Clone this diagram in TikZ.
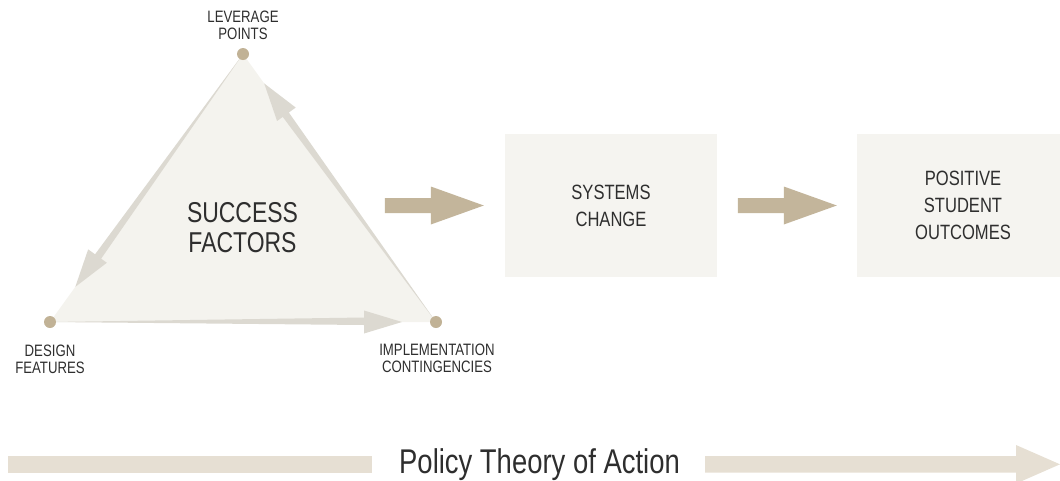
\documentclass[tikz,border=0pt]{standalone}
\usepackage{fontspec}
\setmainfont{Liberation Sans}[FakeStretch=0.8]
\usetikzlibrary{calc}

\definecolor{panel}{HTML}{F5F4F0}
\definecolor{trifill}{HTML}{F4F3EE}
\definecolor{edgegrey}{HTML}{DCD9D1}
\definecolor{tanarrow}{HTML}{C3B59B}
\definecolor{dotc}{HTML}{C1B296}
\definecolor{band}{HTML}{E6DFD3}
\definecolor{ink}{HTML}{2E2E2E}

\tikzset{
  vertexdot/.style={circle,fill=dotc,minimum size=12pt,inner sep=0pt},
  cornerlabel/.style={anchor=north,inner sep=0pt,align=center,text=ink,
    font=\fontsize{16.5}{17}\selectfont},
  stagebox/.style={fill=panel,minimum width=212pt,minimum height=143pt,
    inner sep=0pt,align=center,text=ink,font=\fontsize{20.7}{27}\selectfont},
}

% tapered arrow running along a triangle edge: from, to, head base, tip
\newcommand\edgearrow[4]{%
  \coordinate (ea-b) at ($(#1)!#3!(#2)$);
  \coordinate (ea-t) at ($(#1)!#4!(#2)$);
  \fill[edgegrey] (#1) -- ($(ea-b)!3pt!-90:(#2)$) -- ($(ea-b)!11.5pt!-90:(#2)$)
    -- (ea-t) -- ($(ea-b)!11.5pt!90:(#2)$) -- ($(ea-b)!4.5pt!90:(#2)$) -- cycle;
}

\begin{document}
\begin{tikzpicture}[x=1pt,y=-1pt]
\useasboundingbox (0,0) rectangle (1060,480);
\begin{scope}
\clip (0,0) rectangle (1060,480);

% triangle of success factors
\coordinate (lev) at (243,54);
\coordinate (des) at (50,322);
\coordinate (imp) at (436,322);
\fill[trifill] (lev) -- (des) -- (imp) -- cycle;

\edgearrow{lev}{des}{249pt}{287pt}
\edgearrow{imp}{lev}{256pt}{294pt}
\edgearrow{des}{imp}{314pt}{352pt}

\node[vertexdot] (levdot) at (lev) {};
\node[vertexdot] (desdot) at (des) {};
\node[vertexdot] (impdot) at (imp) {};

\node[cornerlabel] (levlbl) at (243,11) {LEVERAGE\\POINTS};
\node[cornerlabel] (deslbl) at (50,345) {DESIGN\\FEATURES};
\node[cornerlabel] (implbl) at (437,344) {IMPLEMENTATION\\CONTINGENCIES};

\node[align=center,inner sep=0pt,text=ink,font=\fontsize{28.7}{30}\selectfont]
  (sf) at (242.5,228) {SUCCESS\\FACTORS};

% stages
\node[stagebox] (box1) at (611,205.5) {SYSTEMS\\CHANGE};
\node[stagebox] (box2) at (963,205.5) {POSITIVE\\STUDENT\\OUTCOMES};

\fill[tanarrow] ([xshift=-21pt]box1.west) -- ++(-53,-19) -- ++(0,11.5) -- ++(-46,0)
  -- ++(0,15) -- ++(46,0) -- ++(0,11.5) -- cycle;
\fill[tanarrow] ([xshift=-20pt]box2.west) -- ++(-53,-19) -- ++(0,11.5) -- ++(-46,0)
  -- ++(0,15) -- ++(46,0) -- ++(0,11.5) -- cycle;

% policy theory of action band
\node[anchor=base,inner sep=0pt,text=ink,font=\fontsize{34.3}{40}\selectfont]
  (pta) at (539.5,473) {Policy Theory of Action};
\coordinate (bandtop) at (0,456);
\coordinate (bandlow) at (0,472.6);
\coordinate (bandtip) at (1060,464.3);
\coordinate (lend) at ([xshift=-27pt]pta.west);
\coordinate (rstart) at ([xshift=25pt]pta.east);
\fill[band] (8,456) rectangle (lend |- bandlow);
\fill[band] (rstart |- bandtop) -- (1016,456) -- (1016,445) -- (bandtip)
  -- (1016,483.6) -- (1016,472.6) -- (rstart |- bandlow) -- cycle;
\end{scope}
\end{tikzpicture}
\end{document}
